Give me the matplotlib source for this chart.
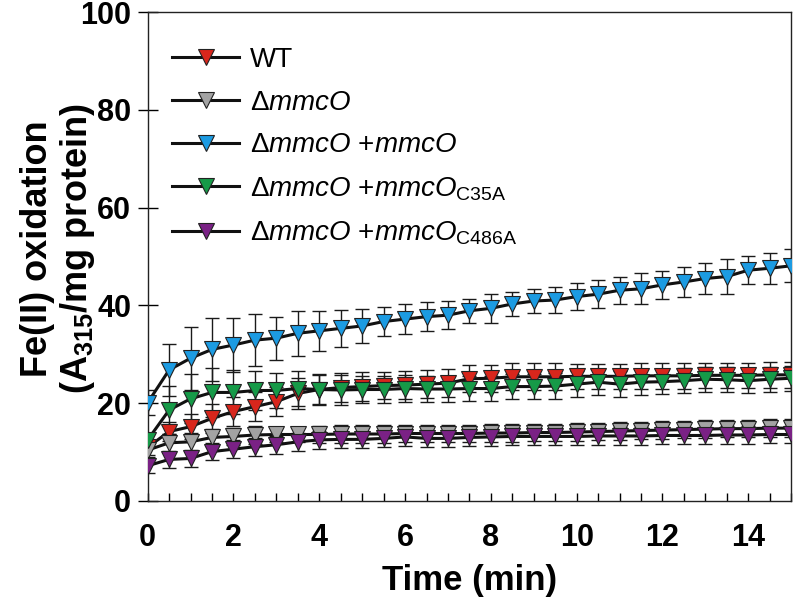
import matplotlib
matplotlib.use("Agg")
import matplotlib.pyplot as plt
import numpy as np

plt.rcParams['font.family'] = ['Liberation Sans', 'DejaVu Sans']
plt.rcParams['mathtext.fontset'] = 'custom'
plt.rcParams['mathtext.rm'] = 'Liberation Sans'
plt.rcParams['mathtext.it'] = 'Liberation Sans:italic'
plt.rcParams['mathtext.bf'] = 'Liberation Sans:bold'

time = np.arange(0, 15.01, 0.5)

wt = [11.0, 14.2, 15.2, 16.9, 18.3, 19.3, 20.3, 22.0, 22.8, 23.2, 23.4, 23.6, 23.7, 23.9, 24.1,
      25.0, 25.1, 25.4, 25.4, 25.4, 25.5, 25.5, 25.5, 25.6, 25.6, 25.6, 25.7, 25.7, 25.7, 25.8, 25.8]
wt_err = [1.5, 2.0, 2.5, 3.0, 3.0, 3.0, 3.0, 3.2, 3.2, 3.0, 3.0, 2.8, 2.8, 2.8, 2.8,
          2.8, 2.8, 2.8, 2.8, 2.8, 2.6, 2.6, 2.6, 2.6, 2.6, 2.6, 2.6, 2.6, 2.6, 2.6, 2.6]

dmmco = [10.4, 11.9, 12.1, 13.0, 13.2, 13.5, 13.6, 13.6, 13.6, 13.7, 13.7, 13.7, 13.8, 13.8, 13.8,
         13.8, 13.9, 13.9, 14.0, 14.0, 14.1, 14.2, 14.3, 14.4, 14.5, 14.6, 14.7, 14.8, 14.8, 14.9, 14.9]
dmmco_err = [1.5, 1.8, 1.8, 1.8, 1.8, 1.8, 1.6, 1.6, 1.8, 1.8, 1.8, 1.8, 1.8, 1.8, 1.8,
             1.8, 1.8, 1.8, 1.8, 1.8, 1.8, 1.8, 1.8, 1.8, 1.8, 1.8, 1.8, 1.8, 1.8, 1.8, 1.8]

comp = [20.1, 26.8, 29.2, 31.0, 31.9, 32.9, 33.3, 34.3, 34.8, 35.3, 35.8, 36.7, 37.2, 37.7, 38.0,
        38.9, 39.4, 40.3, 40.9, 41.1, 41.8, 42.3, 43.1, 43.4, 44.2, 44.8, 45.5, 45.9, 47.2, 47.6, 48.1]
comp_err = [2.5, 5.3, 6.4, 6.4, 5.5, 5.3, 4.4, 4.6, 4.1, 3.8, 3.4, 2.9, 3.0, 2.9, 2.9,
            2.4, 2.9, 2.5, 2.4, 2.7, 2.7, 2.8, 2.8, 3.2, 2.9, 3.1, 3.2, 3.6, 2.9, 3.2, 3.4]

c35a = [12.5, 18.6, 20.9, 22.2, 22.2, 22.6, 22.6, 23.0, 22.8, 22.7, 22.8, 22.8, 23.0, 22.9, 22.9,
        23.0, 23.0, 23.4, 23.4, 23.5, 23.9, 24.3, 23.9, 24.3, 24.4, 24.6, 24.9, 24.8, 24.6, 24.9, 25.1]
c35a_err = [1.5, 5.0, 5.0, 5.0, 4.5, 4.0, 3.5, 3.5, 3.0, 3.0, 2.8, 2.8, 2.8, 2.6, 2.6,
            2.6, 2.6, 2.6, 2.6, 2.6, 2.6, 2.6, 2.6, 2.6, 2.6, 2.6, 2.6, 2.6, 2.6, 2.6, 2.6]

c486a = [7.2, 8.5, 8.7, 10.1, 10.6, 11.1, 11.5, 12.1, 12.5, 12.6, 12.6, 12.8, 13.1, 12.8, 12.8,
         13.0, 13.1, 13.2, 13.2, 13.2, 13.2, 13.3, 13.3, 13.3, 13.4, 13.4, 13.4, 13.5, 13.5, 13.6, 13.6]
c486a_err = [1.5, 1.8, 1.8, 1.8, 1.8, 1.8, 1.8, 1.8, 1.8, 1.8, 1.8, 1.8, 1.8, 1.8, 1.8,
             1.8, 1.8, 1.8, 1.8, 1.8, 1.8, 1.8, 1.8, 1.8, 1.8, 1.8, 1.8, 1.8, 1.8, 1.8, 1.8]

labels = ["WT",
          "Δ$\\mathit{mmcO}$",
          "Δ$\\mathit{mmcO}$ +$\\mathit{mmcO}$",
          "Δ$\\mathit{mmcO}$ +$\\mathit{mmcO}_{\\mathrm{C35A}}$",
          "Δ$\\mathit{mmcO}$ +$\\mathit{mmcO}_{\\mathrm{C486A}}$"]
colors = ["#D8261C", "#A3A3A3", "#1C9BE2", "#169A48", "#7A2185"]
series = [(wt, wt_err), (dmmco, dmmco_err), (comp, comp_err), (c35a, c35a_err), (c486a, c486a_err)]

fig = plt.figure(figsize=(8.0, 6.01), dpi=100)
ax = fig.add_axes([0.1846, 0.1664, 0.8044, 0.8136])

handles = []
for (vals, errs), col, lab in zip(series, colors, labels):
    ax.errorbar(time, vals, yerr=errs, fmt='none', ecolor='#1a1a1a', elinewidth=1.0,
                capsize=5, capthick=1.0, zorder=2)
    h, = ax.plot(time, vals, color='#111111', lw=2.2, marker='v', markersize=11.5,
                 markerfacecolor=col, markeredgecolor='#222222', markeredgewidth=0.8,
                 zorder=3, label=lab)
    handles.append(h)

ax.set_xlim(0, 15)
ax.set_ylim(0, 100)
ax.set_xticks(np.arange(0, 15, 2))
ax.set_xticks(np.arange(0, 15.01, 0.5), minor=True)
ax.set_yticks(np.arange(0, 101, 20))
ax.tick_params(axis='x', which='both', direction='in', length=6, width=1, pad=16,
               labelsize=22)
ax.tick_params(axis='y', which='major', direction='inout', length=14, width=1, pad=5,
               labelsize=22)
for lab in ax.get_xticklabels() + ax.get_yticklabels():
    lab.set_fontweight('bold')
for sp in ax.spines.values():
    sp.set_linewidth(1.0)
    sp.set_color('#222222')

ax.set_xlabel("Time (min)", fontsize=25, fontweight='bold', labelpad=8)
fig.text(0.047, 0.587, "Fe(II) oxidation", rotation=90, fontsize=26, fontweight='bold',
         ha='center', va='center')
fig.text(0.0975, 0.587, "(A$_{\\mathbf{315}}$/mg protein)", rotation=90, fontsize=26,
         fontweight='bold', ha='center', va='center')

leg = ax.legend(handles=handles, loc='upper left', bbox_to_anchor=(0.008, 0.968),
                frameon=False, fontsize=20, handlelength=2.4, labelspacing=0.6,
                handletextpad=0.4, borderaxespad=0.3, markerscale=1.0, numpoints=1)

fig.savefig("out.png", dpi=100)
